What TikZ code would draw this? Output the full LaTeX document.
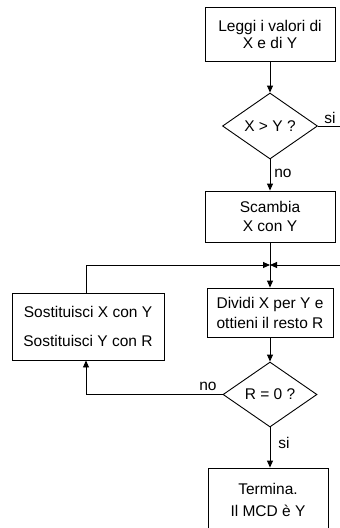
\documentclass[tikz,border=0pt]{standalone}
\usepackage{fontspec}
\setmainfont{Liberation Sans}
\usetikzlibrary{shapes.geometric,arrows.meta}
\begin{document}
\begin{tikzpicture}[x=1pt,y=-1pt,
  every node/.style={font=\fontsize{15.5}{19}\selectfont, inner sep=0pt},
  proc/.style={draw, line width=0.9pt, align=center},
  dec/.style={draw, diamond, line width=0.9pt, minimum width=95pt, minimum height=66pt},
  conn/.style={line width=0.9pt},
  arr/.style={conn, -{Triangle[length=7pt,width=6pt]}},
]
\clip (0,0) rectangle (340,528);
\node[proc, minimum width=130pt, minimum height=54pt, font=\fontsize{15.5}{17}\selectfont] (b1) at (270,34) {Leggi i valori di\\X e di Y};
\node[dec] (d1) at (270,126) {X > Y ?};
\node[proc, minimum width=130pt, minimum height=51pt] (b2) at (270,216.5) {Scambia\\X con Y};
\coordinate (j) at (270,265);
\node[proc, minimum width=126pt, minimum height=49pt, font=\fontsize{15.5}{20}\selectfont] (b3) at (270,312.5) {Dividi X per Y e\\ottieni il resto R};
\node[dec, minimum width=94pt, minimum height=65pt] (d2) at (270,394.5) {R = 0 ?};
\node[proc, minimum width=120pt, minimum height=64pt, font=\fontsize{15.5}{22}\selectfont] (b4) at (268,500) {Termina.\\Il MCD è Y};
\node[proc, minimum width=152pt, minimum height=67pt, font=\fontsize{15.5}{29}\selectfont] (b5) at (88,326.5) {Sostituisci X con Y\\Sostituisci Y con R};
\coordinate (c1) at (86,265);
\coordinate (e1) at (345,126);
\coordinate (e2) at (345,265);
\draw[arr] (b1) -- (d1);
\draw[arr] (d1) -- (b2);
\node (no1) at (283,173) {no};
\draw[conn] (d1.east) -- (e1);
\node (si1) at (330,118) {si};
\draw[arr] (b2) -- (b3);
\draw[arr] (e2) -- (j);
\draw[arr] (b5.north -| c1) |- (j);
\draw[arr] (b3) -- (d2);
\draw[arr] (d2.west) -| (b5.south -| c1);
\node (no2) at (208,386) {no};
\draw[arr] (d2) -- (b4.north -| d2);
\node (si2) at (284,443) {si};
\end{tikzpicture}
\end{document}
